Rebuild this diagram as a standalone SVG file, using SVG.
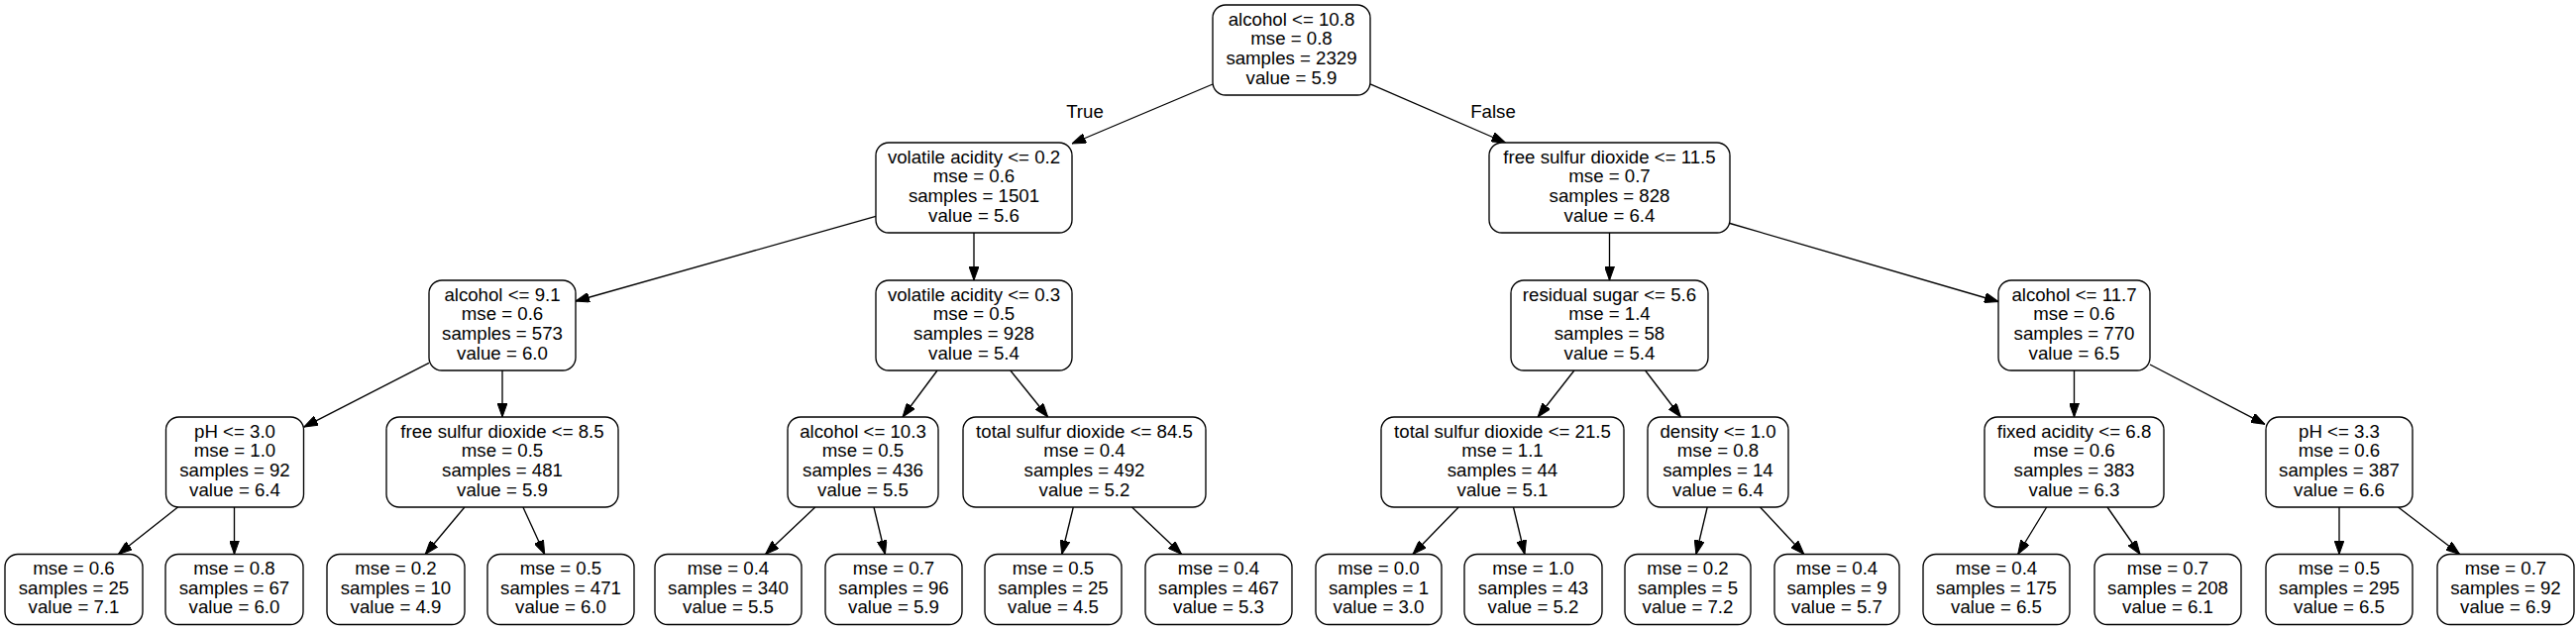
<svg xmlns="http://www.w3.org/2000/svg" width="2600" height="636" viewBox="0 0 2600 636">
<style>
.box{fill:#fff;stroke:#000;stroke-width:1.35}
text{font-family:"Liberation Sans",Arial,sans-serif;font-size:18.67px;fill:#000;text-anchor:middle}
.edge{stroke:#000;stroke-width:1.35;fill:none;marker-end:url(#arr)}
</style>
<defs>
<marker id="arr" markerUnits="userSpaceOnUse" viewBox="0 0 14 10" refX="14" refY="5" markerWidth="14" markerHeight="10" orient="auto">
<path d="M0,0 L14,5 L0,10 z" fill="#000" stroke="#000" stroke-width="1"/>
</marker>
</defs>
<rect width="2600" height="636" fill="#fff"/>
<g id="connectors">
<line class="edge" x1="1224" y1="85" x2="1082" y2="145"/>
<line class="edge" x1="1383" y1="84.9" x2="1519.4" y2="144"/>
<line class="edge" x1="884" y1="218.4" x2="581" y2="304"/>
<line class="edge" x1="983" y1="235" x2="983" y2="283"/>
<line class="edge" x1="433" y1="366.3" x2="306.75" y2="431.1"/>
<line class="edge" x1="507" y1="374" x2="507" y2="421"/>
<line class="edge" x1="179.5" y1="512" x2="119.4" y2="559.5"/>
<line class="edge" x1="236.5" y1="512" x2="236.5" y2="559.5"/>
<line class="edge" x1="468.9" y1="512" x2="429.2" y2="559.5"/>
<line class="edge" x1="527.9" y1="512" x2="549.7" y2="559.5"/>
<line class="edge" x1="946" y1="374" x2="911" y2="421"/>
<line class="edge" x1="1019.8" y1="374" x2="1057.7" y2="421"/>
<line class="edge" x1="822.8" y1="512" x2="772.6" y2="559.5"/>
<line class="edge" x1="882" y1="512" x2="893.4" y2="559.5"/>
<line class="edge" x1="1083.3" y1="512" x2="1071.7" y2="559.5"/>
<line class="edge" x1="1142.5" y1="512" x2="1192.6" y2="559.5"/>
<line class="edge" x1="1624.5" y1="235" x2="1624.5" y2="283"/>
<line class="edge" x1="1746" y1="225.5" x2="2017" y2="304.5"/>
<line class="edge" x1="1588.9" y1="374" x2="1552.1" y2="421"/>
<line class="edge" x1="1660.6" y1="374" x2="1696.5" y2="421"/>
<line class="edge" x1="1472.2" y1="512" x2="1426" y2="559.5"/>
<line class="edge" x1="1527.5" y1="512" x2="1538.9" y2="559.5"/>
<line class="edge" x1="1723.2" y1="512" x2="1711.9" y2="559.5"/>
<line class="edge" x1="1776.5" y1="512" x2="1820.8" y2="559.5"/>
<line class="edge" x1="2093.5" y1="374" x2="2093.5" y2="421"/>
<line class="edge" x1="2170" y1="368" x2="2286" y2="428.3"/>
<line class="edge" x1="2065.7" y1="512" x2="2036.7" y2="559.5"/>
<line class="edge" x1="2127" y1="512" x2="2160" y2="559.5"/>
<line class="edge" x1="2361" y1="512" x2="2361" y2="559.5"/>
<line class="edge" x1="2420.5" y1="512" x2="2482.6" y2="559.5"/>
<text x="1095" y="119">True</text>
<text x="1507" y="119">False</text>
</g>
<g id="n0"><rect class="box" x="1224" y="5" width="159" height="91" rx="13"/><text><tspan x="1303.5" y="25.5">alcohol &lt;= 10.8</tspan><tspan x="1303.5" y="45.2">mse = 0.8</tspan><tspan x="1303.5" y="64.9">samples = 2329</tspan><tspan x="1303.5" y="84.6">value = 5.9</tspan></text></g>
<g id="n1"><rect class="box" x="884" y="144" width="198" height="91" rx="13"/><text><tspan x="983" y="164.5">volatile acidity &lt;= 0.2</tspan><tspan x="983" y="184.2">mse = 0.6</tspan><tspan x="983" y="203.9">samples = 1501</tspan><tspan x="983" y="223.6">value = 5.6</tspan></text></g>
<g id="n16"><rect class="box" x="1503" y="144" width="243" height="91" rx="13"/><text><tspan x="1624.5" y="164.5">free sulfur dioxide &lt;= 11.5</tspan><tspan x="1624.5" y="184.2">mse = 0.7</tspan><tspan x="1624.5" y="203.9">samples = 828</tspan><tspan x="1624.5" y="223.6">value = 6.4</tspan></text></g>
<g id="n2"><rect class="box" x="433" y="283" width="148" height="91" rx="13"/><text><tspan x="507" y="303.5">alcohol &lt;= 9.1</tspan><tspan x="507" y="323.2">mse = 0.6</tspan><tspan x="507" y="342.9">samples = 573</tspan><tspan x="507" y="362.6">value = 6.0</tspan></text></g>
<g id="n9"><rect class="box" x="884" y="283" width="198" height="91" rx="13"/><text><tspan x="983" y="303.5">volatile acidity &lt;= 0.3</tspan><tspan x="983" y="323.2">mse = 0.5</tspan><tspan x="983" y="342.9">samples = 928</tspan><tspan x="983" y="362.6">value = 5.4</tspan></text></g>
<g id="n17"><rect class="box" x="1525" y="283" width="199" height="91" rx="13"/><text><tspan x="1624.5" y="303.5">residual sugar &lt;= 5.6</tspan><tspan x="1624.5" y="323.2">mse = 1.4</tspan><tspan x="1624.5" y="342.9">samples = 58</tspan><tspan x="1624.5" y="362.6">value = 5.4</tspan></text></g>
<g id="n24"><rect class="box" x="2017" y="283" width="153" height="91" rx="13"/><text><tspan x="2093.5" y="303.5">alcohol &lt;= 11.7</tspan><tspan x="2093.5" y="323.2">mse = 0.6</tspan><tspan x="2093.5" y="342.9">samples = 770</tspan><tspan x="2093.5" y="362.6">value = 6.5</tspan></text></g>
<g id="n3"><rect class="box" x="167.5" y="421" width="139" height="91" rx="13"/><text><tspan x="237" y="441.5">pH &lt;= 3.0</tspan><tspan x="237" y="461.2">mse = 1.0</tspan><tspan x="237" y="480.9">samples = 92</tspan><tspan x="237" y="500.6">value = 6.4</tspan></text></g>
<g id="n6"><rect class="box" x="390" y="421" width="234" height="91" rx="13"/><text><tspan x="507" y="441.5">free sulfur dioxide &lt;= 8.5</tspan><tspan x="507" y="461.2">mse = 0.5</tspan><tspan x="507" y="480.9">samples = 481</tspan><tspan x="507" y="500.6">value = 5.9</tspan></text></g>
<g id="n10"><rect class="box" x="795" y="421" width="152" height="91" rx="13"/><text><tspan x="871" y="441.5">alcohol &lt;= 10.3</tspan><tspan x="871" y="461.2">mse = 0.5</tspan><tspan x="871" y="480.9">samples = 436</tspan><tspan x="871" y="500.6">value = 5.5</tspan></text></g>
<g id="n13"><rect class="box" x="972" y="421" width="245" height="91" rx="13"/><text><tspan x="1094.5" y="441.5">total sulfur dioxide &lt;= 84.5</tspan><tspan x="1094.5" y="461.2">mse = 0.4</tspan><tspan x="1094.5" y="480.9">samples = 492</tspan><tspan x="1094.5" y="500.6">value = 5.2</tspan></text></g>
<g id="n18"><rect class="box" x="1394" y="421" width="245" height="91" rx="13"/><text><tspan x="1516.5" y="441.5">total sulfur dioxide &lt;= 21.5</tspan><tspan x="1516.5" y="461.2">mse = 1.1</tspan><tspan x="1516.5" y="480.9">samples = 44</tspan><tspan x="1516.5" y="500.6">value = 5.1</tspan></text></g>
<g id="n21"><rect class="box" x="1663" y="421" width="142" height="91" rx="13"/><text><tspan x="1734" y="441.5">density &lt;= 1.0</tspan><tspan x="1734" y="461.2">mse = 0.8</tspan><tspan x="1734" y="480.9">samples = 14</tspan><tspan x="1734" y="500.6">value = 6.4</tspan></text></g>
<g id="n25"><rect class="box" x="2003" y="421" width="181" height="91" rx="13"/><text><tspan x="2093.5" y="441.5">fixed acidity &lt;= 6.8</tspan><tspan x="2093.5" y="461.2">mse = 0.6</tspan><tspan x="2093.5" y="480.9">samples = 383</tspan><tspan x="2093.5" y="500.6">value = 6.3</tspan></text></g>
<g id="n28"><rect class="box" x="2287" y="421" width="148" height="91" rx="13"/><text><tspan x="2361" y="441.5">pH &lt;= 3.3</tspan><tspan x="2361" y="461.2">mse = 0.6</tspan><tspan x="2361" y="480.9">samples = 387</tspan><tspan x="2361" y="500.6">value = 6.6</tspan></text></g>
<g id="l1"><rect class="box" x="5" y="559.5" width="139" height="71" rx="13"/><text><tspan x="74.5" y="579.8">mse = 0.6</tspan><tspan x="74.5" y="599.5">samples = 25</tspan><tspan x="74.5" y="619.2">value = 7.1</tspan></text></g>
<g id="l2"><rect class="box" x="167" y="559.5" width="139" height="71" rx="13"/><text><tspan x="236.5" y="579.8">mse = 0.8</tspan><tspan x="236.5" y="599.5">samples = 67</tspan><tspan x="236.5" y="619.2">value = 6.0</tspan></text></g>
<g id="l3"><rect class="box" x="330" y="559.5" width="139" height="71" rx="13"/><text><tspan x="399.5" y="579.8">mse = 0.2</tspan><tspan x="399.5" y="599.5">samples = 10</tspan><tspan x="399.5" y="619.2">value = 4.9</tspan></text></g>
<g id="l4"><rect class="box" x="492" y="559.5" width="148" height="71" rx="13"/><text><tspan x="566" y="579.8">mse = 0.5</tspan><tspan x="566" y="599.5">samples = 471</tspan><tspan x="566" y="619.2">value = 6.0</tspan></text></g>
<g id="l5"><rect class="box" x="661" y="559.5" width="148" height="71" rx="13"/><text><tspan x="735" y="579.8">mse = 0.4</tspan><tspan x="735" y="599.5">samples = 340</tspan><tspan x="735" y="619.2">value = 5.5</tspan></text></g>
<g id="l6"><rect class="box" x="833" y="559.5" width="138" height="71" rx="13"/><text><tspan x="902" y="579.8">mse = 0.7</tspan><tspan x="902" y="599.5">samples = 96</tspan><tspan x="902" y="619.2">value = 5.9</tspan></text></g>
<g id="l7"><rect class="box" x="994" y="559.5" width="138" height="71" rx="13"/><text><tspan x="1063" y="579.8">mse = 0.5</tspan><tspan x="1063" y="599.5">samples = 25</tspan><tspan x="1063" y="619.2">value = 4.5</tspan></text></g>
<g id="l8"><rect class="box" x="1156" y="559.5" width="148" height="71" rx="13"/><text><tspan x="1230" y="579.8">mse = 0.4</tspan><tspan x="1230" y="599.5">samples = 467</tspan><tspan x="1230" y="619.2">value = 5.3</tspan></text></g>
<g id="l9"><rect class="box" x="1328" y="559.5" width="127" height="71" rx="13"/><text><tspan x="1391.5" y="579.8">mse = 0.0</tspan><tspan x="1391.5" y="599.5">samples = 1</tspan><tspan x="1391.5" y="619.2">value = 3.0</tspan></text></g>
<g id="l10"><rect class="box" x="1478" y="559.5" width="139" height="71" rx="13"/><text><tspan x="1547.5" y="579.8">mse = 1.0</tspan><tspan x="1547.5" y="599.5">samples = 43</tspan><tspan x="1547.5" y="619.2">value = 5.2</tspan></text></g>
<g id="l11"><rect class="box" x="1640" y="559.5" width="127" height="71" rx="13"/><text><tspan x="1703.5" y="579.8">mse = 0.2</tspan><tspan x="1703.5" y="599.5">samples = 5</tspan><tspan x="1703.5" y="619.2">value = 7.2</tspan></text></g>
<g id="l12"><rect class="box" x="1791" y="559.5" width="126" height="71" rx="13"/><text><tspan x="1854" y="579.8">mse = 0.4</tspan><tspan x="1854" y="599.5">samples = 9</tspan><tspan x="1854" y="619.2">value = 5.7</tspan></text></g>
<g id="l13"><rect class="box" x="1941" y="559.5" width="148" height="71" rx="13"/><text><tspan x="2015" y="579.8">mse = 0.4</tspan><tspan x="2015" y="599.5">samples = 175</tspan><tspan x="2015" y="619.2">value = 6.5</tspan></text></g>
<g id="l14"><rect class="box" x="2114" y="559.5" width="148" height="71" rx="13"/><text><tspan x="2188" y="579.8">mse = 0.7</tspan><tspan x="2188" y="599.5">samples = 208</tspan><tspan x="2188" y="619.2">value = 6.1</tspan></text></g>
<g id="l15"><rect class="box" x="2287" y="559.5" width="148" height="71" rx="13"/><text><tspan x="2361" y="579.8">mse = 0.5</tspan><tspan x="2361" y="599.5">samples = 295</tspan><tspan x="2361" y="619.2">value = 6.5</tspan></text></g>
<g id="l16"><rect class="box" x="2460" y="559.5" width="138" height="71" rx="13"/><text><tspan x="2529" y="579.8">mse = 0.7</tspan><tspan x="2529" y="599.5">samples = 92</tspan><tspan x="2529" y="619.2">value = 6.9</tspan></text></g>
</svg>
